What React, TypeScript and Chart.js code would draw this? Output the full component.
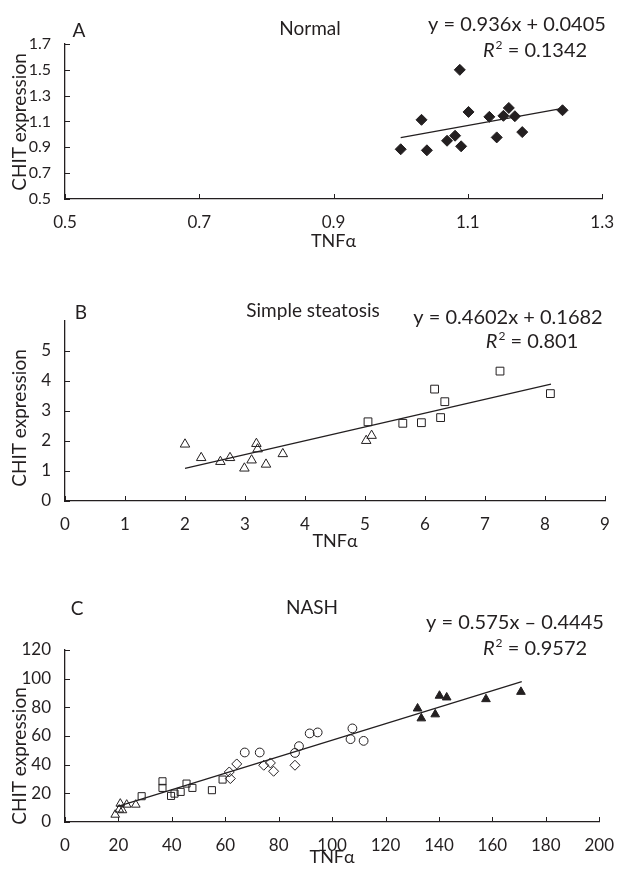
import React, { useEffect, useRef } from 'react';
import { Chart, registerables } from 'chart.js';

Chart.register(...registerables);

const FONT = 'Lato, "Open Sans", "DejaVu Sans", sans-serif';
const INK = '#231f20';

// ---------- Panel A : Normal ----------
const normalTNF = [1.0, 1.031, 1.039, 1.069, 1.081, 1.09, 1.088, 1.101, 1.132, 1.143, 1.153, 1.161, 1.17, 1.181, 1.241];
const normalCHIT = [0.885, 1.113, 0.877, 0.951, 0.99, 0.908, 1.5, 1.174, 1.136, 0.977, 1.144, 1.205, 1.141, 1.018, 1.187];
const normalTrendTNF = [1.0, 1.241];
const normalTrendCHIT = [0.976, 1.202];
const normalXTicks = [0.5, 0.7, 0.9, 1.1, 1.3];
const normalYTicks = [0.5, 0.7, 0.9, 1.1, 1.3, 1.5, 1.7];

// ---------- Panel B : Simple steatosis ----------
const ssTriTNF = [2.0, 2.27, 2.59, 2.75, 2.99, 3.11, 3.19, 3.21, 3.35, 3.63, 5.02, 5.11];
const ssTriCHIT = [1.89, 1.44, 1.31, 1.44, 1.09, 1.36, 1.91, 1.73, 1.22, 1.57, 2.01, 2.18];
const ssSqTNF = [5.05, 5.63, 5.94, 6.16, 6.26, 6.33, 7.25, 8.09];
const ssSqCHIT = [2.64, 2.59, 2.61, 3.73, 2.78, 3.31, 4.33, 3.58];
const ssTrendTNF = [2.0, 8.1];
const ssTrendCHIT = [1.088, 3.896];
const ssXTicks = [0, 1, 2, 3, 4, 5, 6, 7, 8, 9];
const ssYTicks = [0, 1, 2, 3, 4, 5];

// ---------- Panel C : NASH ----------
const nashTriOpenTNF = [18.8, 20.3, 21.5, 20.7, 23.1, 26.5];
const nashTriOpenCHIT = [5.1, 8.7, 8.2, 12.8, 12.1, 12.1];
const nashSqTNF = [28.7, 36.5, 36.5, 39.7, 41.0, 43.3, 45.5, 47.7, 55.0, 59.0];
const nashSqCHIT = [18.0, 28.4, 23.8, 18.2, 19.8, 21.0, 26.8, 23.8, 22.2, 29.6];
const nashDiaTNF = [61.5, 61.9, 64.3, 74.4, 76.9, 78.1, 86.1];
const nashDiaCHIT = [34.9, 30.3, 40.5, 39.6, 41.2, 35.4, 39.6];
const nashCircTNF = [67.3, 72.9, 86.1, 87.6, 91.6, 94.6, 106.9, 107.6, 111.8];
const nashCircCHIT = [48.5, 48.5, 48.2, 52.9, 61.8, 62.5, 57.8, 65.3, 56.6];
const nashTriFillTNF = [132.0, 133.4, 138.6, 140.2, 142.9, 157.6, 170.7];
const nashTriFillCHIT = [79.2, 72.3, 75.1, 88.1, 86.9, 85.7, 90.8];
const nashTrendTNF = [19.5, 171];
const nashTrendCHIT = [10.77, 97.88];
const nashXTicks = [0, 20, 40, 60, 80, 100, 120, 140, 160, 180, 200];
const nashYTicks = [0, 20, 40, 60, 80, 100, 120];

type Series = { x: number[]; y: number[]; style: string; filled: boolean; radius: number };
type Label = { t: string; x: number; y: number };
type PanelDef = {
  top: number; height: number; areaTop: number; areaBottom: number;
  xMin: number; xMax: number; yMin: number; yMax: number;
  xTicks: number[]; yTicks: number[]; digits: number; yTickSize: number;
  series: Series[]; trendX: number[]; trendY: number[];
  letter: Label; title: Label; eq: Label; r2: Label; xTitleY: number; yTitleY: number;
};

const pts = (xs: number[], ys: number[]) => xs.map((x, i) => ({ x, y: ys[i] }));

const panels: PanelDef[] = [
  {
    top: 0, height: 290, areaTop: 44, areaBottom: 199,
    xMin: 0.5, xMax: 1.3, yMin: 0.5, yMax: 1.7,
    xTicks: normalXTicks, yTicks: normalYTicks, digits: 1, yTickSize: 16,
    series: [{ x: normalTNF, y: normalCHIT, style: 'rectRot', filled: true, radius: 5.5 }],
    trendX: normalTrendTNF, trendY: normalTrendCHIT,
    letter: { t: 'A', x: 79, y: 31 }, title: { t: 'Normal', x: 310, y: 29 },
    eq: { t: 'y = 0.936x + 0.0405', x: 517, y: 25 }, r2: { t: '0.1342', x: 535, y: 50 },
    xTitleY: 241, yTitleY: 122,
  },
  {
    top: 290, height: 290, areaTop: 321, areaBottom: 501,
    xMin: 0, xMax: 9, yMin: 0, yMax: 6,
    xTicks: ssXTicks, yTicks: ssYTicks, digits: 0, yTickSize: 17,
    series: [
      { x: ssTriTNF, y: ssTriCHIT, style: 'triangle', filled: false, radius: 5.5 },
      { x: ssSqTNF, y: ssSqCHIT, style: 'rect', filled: false, radius: 5.5 },
    ],
    trendX: ssTrendTNF, trendY: ssTrendCHIT,
    letter: { t: 'B', x: 81, y: 313 }, title: { t: 'Simple steatosis', x: 313, y: 311 },
    eq: { t: 'y = 0.4602x + 0.1682', x: 508, y: 318 }, r2: { t: '0.801', x: 532, y: 341 },
    xTitleY: 541, yTitleY: 418,
  },
  {
    top: 580, height: 289, areaTop: 650, areaBottom: 822,
    xMin: 0, xMax: 200, yMin: 0, yMax: 120,
    xTicks: nashXTicks, yTicks: nashYTicks, digits: 0, yTickSize: 17,
    series: [
      { x: nashTriOpenTNF, y: nashTriOpenCHIT, style: 'triangle', filled: false, radius: 5 },
      { x: nashSqTNF, y: nashSqCHIT, style: 'rect', filled: false, radius: 5 },
      { x: nashDiaTNF, y: nashDiaCHIT, style: 'rectRot', filled: false, radius: 5 },
      { x: nashCircTNF, y: nashCircCHIT, style: 'circle', filled: false, radius: 4.4 },
      { x: nashTriFillTNF, y: nashTriFillCHIT, style: 'triangle', filled: true, radius: 5 },
    ],
    trendX: nashTrendTNF, trendY: nashTrendCHIT,
    letter: { t: 'C', x: 77, y: 609 }, title: { t: 'NASH', x: 312, y: 608 },
    eq: { t: 'y = 0.575x \u2013 0.4445', x: 515, y: 623 }, r2: { t: '0.9572', x: 535, y: 648 },
    xTitleY: 857, yTitleY: 756,
  },
];

function drawR2(ctx: CanvasRenderingContext2D, value: string, cx: number, cy: number, size: number) {
  const italic = `italic ${size}px ${FONT}`;
  const normal = `${size}px ${FONT}`;
  const sup = `${Math.round(size * 0.62)}px ${FONT}`;
  ctx.font = italic;
  const wR = ctx.measureText('R').width;
  ctx.font = sup;
  const w2 = ctx.measureText('2').width;
  const rest = ` = ${value}`;
  ctx.font = normal;
  const wRest = ctx.measureText(rest).width;
  const total = wR + 1 + w2 + wRest;
  let x = cx - total / 2;
  const base = cy + size * 0.36;
  ctx.textAlign = 'left';
  ctx.textBaseline = 'alphabetic';
  ctx.font = italic;
  ctx.fillText('R', x, base);
  x += wR + 1;
  ctx.font = sup;
  ctx.fillText('2', x, base - size * 0.42);
  x += w2;
  ctx.font = normal;
  ctx.fillText(rest, x, base);
}

function Panel({ def }: { def: PanelDef }) {
  const ref = useRef<HTMLCanvasElement | null>(null);
  useEffect(() => {
    if (!ref.current) return;
    const d = def;
    const datasets: any[] = d.series.map((s) => ({
      type: 'scatter',
      data: pts(s.x, s.y),
      pointStyle: s.style,
      pointRadius: s.radius,
      pointBorderWidth: 1,
      pointBorderColor: INK,
      pointBackgroundColor: s.filled ? INK : 'rgba(255,255,255,0)',
      showLine: false,
    }));
    datasets.push({
      type: 'line',
      data: pts(d.trendX, d.trendY),
      borderColor: INK,
      borderWidth: 1.3,
      pointRadius: 0,
      fill: false,
      tension: 0,
    });
    const deco = {
      id: 'deco',
      afterDraw(chart: any) {
        const ctx: CanvasRenderingContext2D = chart.ctx;
        ctx.save();
        // inward tick marks
        ctx.strokeStyle = INK;
        ctx.lineWidth = 1;
        const xs = chart.scales.x;
        const ys = chart.scales.y;
        const area = chart.chartArea;
        xs.ticks.forEach((t: any) => {
          const px = Math.round(xs.getPixelForValue(t.value)) + 0.5;
          ctx.beginPath();
          ctx.moveTo(px, area.bottom);
          ctx.lineTo(px, area.bottom - 5);
          ctx.stroke();
        });
        ys.ticks.forEach((t: any) => {
          const py = Math.round(ys.getPixelForValue(t.value)) + 0.5;
          ctx.beginPath();
          ctx.moveTo(area.left, py);
          ctx.lineTo(area.left + 5, py);
          ctx.stroke();
        });
        // texts
        ctx.fillStyle = INK;
        ctx.textAlign = 'center';
        ctx.textBaseline = 'middle';
        ctx.font = `19px ${FONT}`;
        ctx.fillText(d.letter.t, d.letter.x, d.letter.y - d.top);
        ctx.font = `19px ${FONT}`;
        ctx.fillText(d.title.t, d.title.x, d.title.y - d.top);
        ctx.font = `20px ${FONT}`;
        ctx.fillText(d.eq.t, d.eq.x, d.eq.y - d.top);
        drawR2(ctx, d.r2.t, d.r2.x, d.r2.y - d.top, 20);
        // y axis title
        ctx.save();
        ctx.translate(20, d.yTitleY - d.top);
        ctx.rotate(-Math.PI / 2);
        ctx.font = `19px ${FONT}`;
        ctx.textAlign = 'center';
        ctx.textBaseline = 'middle';
        ctx.fillText('CHIT expression', 0, 0);
        ctx.restore();
        ctx.restore();
      },
    };
    const chart = new Chart(ref.current, {
      type: 'scatter',
      data: { datasets },
      options: {
        animation: false,
        responsive: false,
        maintainAspectRatio: false,
        devicePixelRatio: 1,
        layout: { padding: { top: d.areaTop - d.top, left: 0, right: 14, bottom: 0 } },
        plugins: { legend: { display: false }, tooltip: { enabled: false } },
        scales: {
          x: {
            type: 'linear',
            min: d.xMin,
            max: d.xMax,
            afterBuildTicks: (axis: any) => { axis.ticks = d.xTicks.map((v) => ({ value: v })); },
            afterFit: (s: any) => { s.height = d.top + d.height - d.areaBottom; },
            grid: { display: false },
            border: { display: true, color: INK, width: 1.3 },
            ticks: {
              autoSkip: false,
              maxRotation: 0,
              padding: 5,
              color: INK,
              font: { family: FONT, size: 17 },
              callback: (v: any) => Number(v).toFixed(d.digits),
            },
            title: {
              display: true,
              text: 'TNF\u03b1',
              color: INK,
              font: { family: FONT, size: 18 },
              padding: { top: 0, bottom: d.top + d.height - d.xTitleY - 10.8 },
            },
          },
          y: {
            type: 'linear',
            min: d.yMin,
            max: d.yMax,
            afterBuildTicks: (axis: any) => { axis.ticks = d.yTicks.map((v) => ({ value: v })); },
            afterFit: (s: any) => { s.width = 65; },
            grid: { display: false },
            border: { display: true, color: INK, width: 1.3 },
            ticks: {
              autoSkip: false,
              padding: 6,
              color: INK,
              font: { family: FONT, size: d.yTickSize },
              callback: (v: any) => Number(v).toFixed(d.digits),
            },
            title: { display: false },
          },
        },
      } as any,
      plugins: [deco],
    });
    return () => chart.destroy();
  }, [def]);
  return (
    <canvas
      ref={ref}
      width={619}
      height={def.height}
      style={{ position: 'absolute', left: 0, top: def.top, width: 619, height: def.height }}
    />
  );
}

export default function App() {
  return (
    <div style={{ position: 'absolute', left: 0, top: 0, width: 619, height: 869, background: '#fff' }}>
      {panels.map((p, i) => (
        <Panel key={i} def={p} />
      ))}
    </div>
  );
}
